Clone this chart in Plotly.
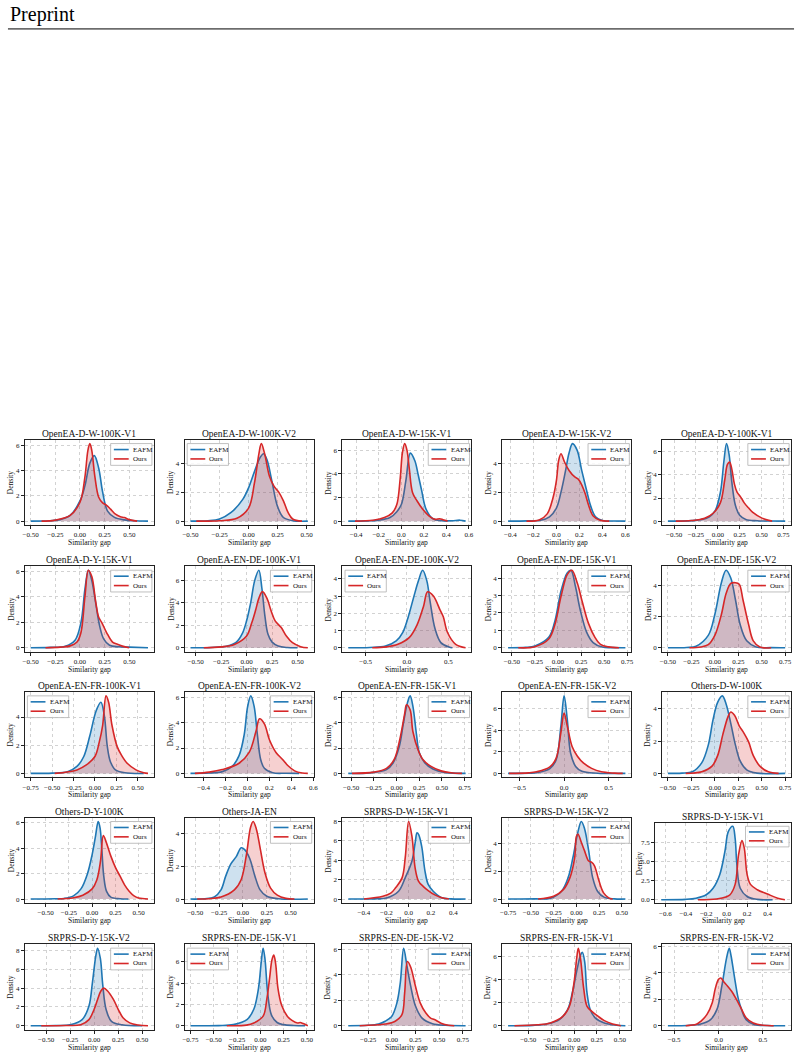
import plotly.graph_objects as go

W, H = 804, 1055
SERIES = ["EAFM", "Ours"]
LINE_COLORS = ["#1f77b4", "#d62728"]
FILL_COLORS = ["rgba(31,119,180,0.22)", "rgba(214,39,40,0.22)"]
FONT = "Liberation Serif"
M = "\u2212"

# ---------------- data ----------------
titles = ["OpenEA-D-W-100K-V1", "OpenEA-D-W-100K-V2", "OpenEA-D-W-15K-V1", "OpenEA-D-W-15K-V2",
          "OpenEA-D-Y-100K-V1", "OpenEA-D-Y-15K-V1", "OpenEA-EN-DE-100K-V1", "OpenEA-EN-DE-100K-V2",
          "OpenEA-EN-DE-15K-V1", "OpenEA-EN-DE-15K-V2", "OpenEA-EN-FR-100K-V1", "OpenEA-EN-FR-100K-V2",
          "OpenEA-EN-FR-15K-V1", "OpenEA-EN-FR-15K-V2", "Others-D-W-100K", "Others-D-Y-100K",
          "Others-JA-EN", "SRPRS-D-W-15K-V1", "SRPRS-D-W-15K-V2", "SRPRS-D-Y-15K-V1",
          "SRPRS-D-Y-15K-V2", "SRPRS-EN-DE-15K-V1", "SRPRS-EN-DE-15K-V2", "SRPRS-EN-FR-15K-V1",
          "SRPRS-EN-FR-15K-V2"]

xt_q = [M + "0.50", M + "0.25", "0.00", "0.25", "0.50"]
xt_q75 = [M + "0.50", M + "0.25", "0.00", "0.25", "0.50", "0.75"]
xt_q75n = [M + "0.75", M + "0.50", M + "0.25", "0.00", "0.25", "0.50"]
xt_f6 = [M + "0.4", M + "0.2", "0.0", "0.2", "0.4", "0.6"]
xt_f4 = [M + "0.4", M + "0.2", "0.0", "0.2", "0.4"]
xt_h = [M + "0.5", "0.0", "0.5"]
xt_srprs_y = [M + "0.6", M + "0.4", M + "0.2", "0.0", "0.2", "0.4"]
xt_en_de_v2 = [M + "0.25", "0.00", "0.25", "0.50", "0.75"]

yt_0246 = ["0", "2", "4", "6"]
yt_024 = ["0", "2", "4"]
yt_01234 = ["0", "1", "2", "3", "4"]
yt_02468 = ["0", "2", "4", "6", "8"]
yt_dec = ["0.0", "2.5", "5.0", "7.5"]

xticks = [xt_q, xt_q, xt_f6, xt_f6, xt_q75,
          xt_q, xt_q, xt_h, xt_q75, xt_q75,
          xt_q75n, xt_f6, xt_q75, xt_h, xt_q75,
          xt_q, xt_q75, xt_f4, xt_q75n, xt_srprs_y,
          xt_q, xt_q75n, xt_en_de_v2, xt_q, xt_h]
yticks = [yt_0246, yt_024, yt_0246, yt_024, yt_0246,
          yt_0246, yt_0246, yt_01234, yt_01234, yt_024,
          yt_024, yt_0246, yt_0246, yt_0246, yt_024,
          yt_0246, yt_024, yt_02468, yt_024, yt_dec,
          yt_02468, yt_0246, yt_0246, yt_0246, yt_0246]
legend_left = [2, 8, 11, 22]

e01_x = [-0.50, -0.30, -0.20, -0.10, 0.00, 0.05, 0.10, 0.145, 0.19, 0.23, 0.28, 0.35, 0.45, 0.55, 0.69]
e01_y = [0, 0.03, 0.12, 0.45, 1.6, 2.8, 4.6, 5.2, 4.2, 2.3, 0.8, 0.3, 0.1, 0.03, 0]
o01_x = [-0.39, -0.25, -0.10, 0.00, 0.05, 0.08, 0.10, 0.12, 0.15, 0.19, 0.23, 0.27, 0.31, 0.36, 0.41, 0.45, 0.50, 0.58]
o01_y = [0, 0.08, 0.45, 1.5, 3.5, 5.6, 6.15, 5.6, 3.6, 1.9, 1.45, 1.25, 0.95, 0.55, 0.35, 0.28, 0.12, 0]

e02_x = [-0.50, -0.35, -0.25, -0.15, -0.05, 0.00, 0.05, 0.10, 0.13, 0.16, 0.20, 0.25, 0.30, 0.38, 0.51]
e02_y = [0, 0.03, 0.15, 0.6, 1.5, 2.3, 3.4, 4.4, 4.65, 4.2, 2.8, 1.0, 0.25, 0.03, 0]
o02_x = [-0.45, -0.25, -0.10, 0.00, 0.05, 0.09, 0.11, 0.14, 0.18, 0.22, 0.26, 0.30, 0.34, 0.38, 0.46]
o02_y = [0, 0.03, 0.2, 0.9, 2.6, 4.7, 5.35, 4.6, 3.1, 2.4, 2.0, 1.4, 0.6, 0.15, 0]

e03_x = [-0.47, -0.30, -0.20, -0.10, -0.04, 0.00, 0.04, 0.08, 0.12, 0.15, 0.18, 0.22, 0.28, 0.36, 0.45, 0.52, 0.57]
e03_y = [0, 0.02, 0.08, 0.3, 0.8, 1.4, 3.4, 5.75, 5.1, 3.9, 2.6, 1.0, 0.2, 0.04, 0.03, 0.08, 0]
o03_x = [-0.41, -0.25, -0.15, -0.08, -0.04, -0.01, 0.01, 0.03, 0.05, 0.07, 0.10, 0.14, 0.19, 0.25, 0.30, 0.34, 0.37, 0.41]
o03_y = [0, 0.08, 0.3, 0.7, 1.4, 3.6, 5.8, 6.55, 6.0, 4.5, 2.4, 1.7, 1.0, 0.4, 0.15, 0.2, 0.12, 0]

e04_x = [-0.42, -0.25, -0.14, -0.06, 0.00, 0.04, 0.08, 0.11, 0.14, 0.18, 0.22, 0.26, 0.30, 0.34, 0.40, 0.50, 0.60]
e04_y = [0, 0.02, 0.06, 0.3, 0.9, 2.0, 3.5, 4.7, 5.35, 4.9, 3.5, 2.2, 1.0, 0.3, 0.05, 0.01, 0]
o04_x = [-0.26, -0.15, -0.08, -0.03, 0.00, 0.02, 0.04, 0.07, 0.11, 0.16, 0.19, 0.22, 0.25, 0.28, 0.32, 0.38, 0.46]
o04_y = [0, 0.08, 0.5, 1.6, 2.8, 4.2, 4.65, 4.1, 3.5, 3.05, 2.9, 2.5, 1.9, 1.1, 0.35, 0.06, 0]

e05_x = [-0.57, -0.35, -0.20, -0.10, -0.03, 0.03, 0.07, 0.10, 0.13, 0.16, 0.20, 0.25, 0.32, 0.45, 0.60, 0.77]
e05_y = [0, 0.02, 0.12, 0.35, 0.9, 2.5, 5.2, 6.7, 5.7, 3.4, 1.4, 0.5, 0.15, 0.03, 0.01, 0]
o05_x = [-0.48, -0.30, -0.15, -0.05, 0.03, 0.08, 0.11, 0.135, 0.16, 0.19, 0.22, 0.26, 0.30, 0.35, 0.40, 0.50, 0.62]
o05_y = [0, 0.05, 0.25, 0.7, 1.6, 3.6, 4.9, 5.1, 4.5, 3.2, 2.5, 2.1, 1.6, 1.15, 0.75, 0.28, 0]

e06_x = [-0.50, -0.30, -0.15, -0.05, 0.01, 0.05, 0.085, 0.12, 0.16, 0.20, 0.24, 0.30, 0.40, 0.50, 0.69]
e06_y = [0, 0.03, 0.12, 0.6, 2.0, 4.6, 6.1, 5.3, 3.5, 1.7, 0.7, 0.2, 0.08, 0.05, 0]
o06_x = [-0.35, -0.20, -0.10, -0.03, 0.01, 0.05, 0.085, 0.12, 0.16, 0.19, 0.22, 0.27, 0.33, 0.38, 0.43, 0.50]
o06_y = [0, 0.05, 0.15, 0.45, 1.2, 4.0, 6.1, 5.6, 3.6, 2.4, 2.0, 1.2, 0.45, 0.27, 0.13, 0]

e07_x = [-0.55, -0.35, -0.19, -0.10, -0.04, 0.00, 0.04, 0.08, 0.12, 0.15, 0.18, 0.21, 0.25, 0.31, 0.40, 0.50]
e07_y = [0, 0.03, 0.15, 0.5, 1.3, 2.4, 4.0, 6.0, 6.9, 5.3, 2.8, 1.2, 0.5, 0.15, 0.02, 0]
o07_x = [-0.42, -0.25, -0.12, 0.00, 0.05, 0.09, 0.12, 0.155, 0.20, 0.24, 0.28, 0.34, 0.39, 0.45, 0.53, 0.60]
o07_y = [0, 0.08, 0.3, 1.05, 2.2, 3.4, 4.4, 5.0, 4.4, 3.3, 2.4, 1.8, 1.05, 0.45, 0.1, 0]

e08_x = [-0.71, -0.45, -0.26, -0.13, -0.05, 0.01, 0.085, 0.14, 0.19, 0.24, 0.28, 0.34, 0.41, 0.51, 0.55]
e08_y = [0, 0.02, 0.1, 0.4, 0.9, 1.7, 3.0, 3.9, 4.5, 3.9, 2.7, 1.1, 0.3, 0.04, 0]
o08_x = [-0.42, -0.25, -0.11, 0.03, 0.12, 0.20, 0.25, 0.32, 0.40, 0.44, 0.49, 0.59, 0.71]
o08_y = [0, 0.05, 0.2, 0.6, 1.3, 2.4, 3.25, 3.0, 2.2, 1.8, 0.9, 0.2, 0]

e09_x = [-0.54, -0.35, -0.25, -0.10, -0.035, 0.035, 0.10, 0.14, 0.19, 0.24, 0.31, 0.38, 0.48, 0.60, 0.73]
e09_y = [0, 0.02, 0.1, 0.6, 1.5, 3.3, 4.3, 4.45, 3.5, 2.2, 0.9, 0.3, 0.04, 0.01, 0]
o09_x = [-0.43, -0.25, -0.10, -0.035, 0.035, 0.10, 0.15, 0.21, 0.26, 0.33, 0.40, 0.46, 0.55, 0.66]
o09_y = [0, 0.06, 0.5, 1.3, 3.0, 4.2, 4.45, 3.7, 2.7, 1.4, 0.6, 0.2, 0.05, 0]

e10_x = [-0.50, -0.30, -0.20, -0.07, 0.00, 0.07, 0.12, 0.17, 0.22, 0.27, 0.34, 0.44, 0.60, 0.75]
e10_y = [0, 0.02, 0.1, 0.8, 2.15, 4.2, 5.0, 4.5, 3.1, 1.5, 0.45, 0.05, 0.01, 0]
o10_x = [-0.27, -0.15, -0.07, 0.00, 0.07, 0.12, 0.17, 0.22, 0.26, 0.30, 0.36, 0.41, 0.48, 0.60]
o10_y = [0, 0.05, 0.2, 0.8, 2.15, 3.5, 4.15, 4.2, 4.1, 3.1, 1.5, 0.45, 0.05, 0]

e11_x = [-0.75, -0.50, -0.32, -0.21, -0.13, -0.06, 0.015, 0.07, 0.11, 0.145, 0.18, 0.24, 0.35, 0.57]
e11_y = [0, 0.02, 0.12, 0.5, 1.2, 2.65, 4.45, 5.05, 4.1, 1.9, 0.85, 0.25, 0.05, 0]
o11_x = [-0.47, -0.21, -0.10, 0.00, 0.05, 0.09, 0.13, 0.16, 0.20, 0.26, 0.31, 0.38, 0.48, 0.57, 0.62]
o11_y = [0, 0.25, 0.6, 1.2, 2.2, 3.4, 5.5, 5.05, 3.4, 1.9, 1.3, 0.7, 0.25, 0.05, 0]

e12_x = [-0.52, -0.35, -0.23, -0.14, -0.077, -0.03, 0.00, 0.03, 0.06, 0.09, 0.12, 0.154, 0.23, 0.35, 0.47]
e12_y = [0, 0.03, 0.14, 0.55, 1.4, 3.05, 5.2, 6.1, 5.3, 3.05, 1.1, 0.4, 0.05, 0.01, 0]
o12_x = [-0.48, -0.35, -0.23, -0.077, 0.015, 0.077, 0.11, 0.154, 0.20, 0.26, 0.32, 0.37, 0.43, 0.50, 0.55]
o12_y = [0, 0.1, 0.3, 0.8, 1.65, 3.3, 4.3, 3.9, 2.65, 1.65, 1.1, 0.6, 0.2, 0.03, 0]

e13_x = [-0.53, -0.30, -0.11, -0.04, 0.03, 0.075, 0.12, 0.15, 0.18, 0.22, 0.25, 0.31, 0.40, 0.53, 0.76]
e13_y = [0, 0.04, 0.3, 0.8, 2.1, 3.9, 5.55, 6.1, 5.3, 3.05, 1.65, 0.85, 0.35, 0.08, 0]
o13_x = [-0.49, -0.25, -0.11, -0.025, 0.04, 0.09, 0.11, 0.15, 0.18, 0.24, 0.29, 0.38, 0.49, 0.60, 0.72]
o13_y = [0, 0.1, 0.4, 1.1, 2.8, 4.7, 5.4, 5.0, 3.3, 1.8, 1.1, 0.55, 0.2, 0.05, 0]

e14_x = [-0.63, -0.40, -0.31, -0.16, -0.09, -0.036, 0.00, 0.036, 0.073, 0.13, 0.20, 0.38, 0.69]
e14_y = [0, 0.02, 0.06, 0.45, 1.25, 4.4, 7.2, 5.0, 1.9, 0.65, 0.2, 0.02, 0]
o14_x = [-0.62, -0.40, -0.31, -0.16, -0.09, -0.036, 0.00, 0.036, 0.09, 0.15, 0.22, 0.31, 0.42, 0.57, 0.66]
o14_y = [0, 0.05, 0.15, 0.6, 1.4, 3.8, 5.6, 4.4, 2.5, 1.6, 0.95, 0.47, 0.15, 0.03, 0]

e15_x = [-0.50, -0.35, -0.24, -0.14, -0.07, -0.02, 0.03, 0.08, 0.12, 0.17, 0.22, 0.27, 0.34, 0.45, 0.75]
e15_y = [0, 0.02, 0.1, 0.65, 1.75, 3.3, 4.4, 4.8, 4.3, 3.1, 1.75, 0.77, 0.22, 0.02, 0]
o15_x = [-0.31, -0.14, -0.03, 0.03, 0.085, 0.14, 0.17, 0.21, 0.26, 0.31, 0.36, 0.41, 0.48, 0.57, 0.68]
o15_y = [0, 0.1, 0.45, 1.1, 2.4, 3.5, 3.8, 3.6, 2.95, 2.5, 1.95, 1.1, 0.45, 0.1, 0]

e16_x = [-0.66, -0.40, -0.30, -0.20, -0.12, -0.05, 0.00, 0.035, 0.065, 0.085, 0.105, 0.125, 0.155, 0.20, 0.30, 0.39]
e16_y = [0, 0.02, 0.05, 0.25, 0.8, 2.0, 3.5, 4.9, 6.1, 5.6, 3.8, 1.8, 0.6, 0.15, 0.02, 0]
o16_x = [-0.37, -0.20, -0.10, 0.00, 0.05, 0.09, 0.12, 0.15, 0.20, 0.25, 0.30, 0.35, 0.40, 0.45, 0.50, 0.60]
o16_y = [0, 0.1, 0.3, 0.8, 1.5, 3.0, 5.0, 4.5, 3.4, 2.5, 1.8, 1.1, 0.6, 0.25, 0.08, 0]

e17_x = [-0.55, -0.40, -0.30, -0.23, -0.18, -0.125, -0.07, -0.018, 0.018, 0.07, 0.125, 0.18, 0.25, 0.375, 0.68]
e17_y = [0, 0.02, 0.13, 0.56, 1.42, 2.17, 2.6, 3.14, 3.03, 2.5, 1.42, 0.56, 0.17, 0.02, 0]
o17_x = [-0.48, -0.23, -0.09, -0.018, 0.036, 0.08, 0.107, 0.14, 0.18, 0.23, 0.29, 0.36, 0.45, 0.54]
o17_y = [0, 0.13, 0.56, 1.2, 2.7, 4.4, 4.75, 4.3, 3.14, 1.63, 0.67, 0.24, 0.04, 0]

e18_x = [-0.54, -0.30, -0.20, -0.09, -0.03, 0.03, 0.06, 0.075, 0.09, 0.117, 0.146, 0.175, 0.22, 0.29, 0.38, 0.51]
e18_y = [0, 0.02, 0.1, 0.8, 2.2, 3.9, 5.9, 6.8, 6.6, 5.4, 2.9, 1.5, 0.8, 0.17, 0.02, 0]
o18_x = [-0.40, -0.23, -0.16, -0.117, -0.058, -0.03, 0.00, 0.03, 0.058, 0.088, 0.13, 0.175, 0.23, 0.29, 0.36]
o18_y = [0, 0.28, 0.6, 1.15, 2.2, 4.3, 7.95, 6.4, 3.2, 1.85, 1.3, 0.87, 0.45, 0.17, 0]

e19_x = [-0.75, -0.45, -0.29, -0.165, -0.09, -0.037, 0.018, 0.055, 0.09, 0.136, 0.18, 0.235, 0.31, 0.42, 0.54]
e19_y = [0, 0.01, 0.05, 0.55, 1.55, 3.0, 4.85, 5.6, 5.1, 3.5, 1.55, 0.55, 0.12, 0.01, 0]
o19_x = [-0.42, -0.25, -0.14, -0.07, -0.018, 0.00, 0.018, 0.055, 0.09, 0.136, 0.17, 0.20, 0.25, 0.30, 0.36, 0.40]
o19_y = [0, 0.2, 0.7, 1.55, 3.0, 4.5, 4.7, 4.1, 3.5, 2.75, 2.65, 2.4, 1.3, 0.45, 0.07, 0]

e20_x = [-0.64, -0.40, -0.30, -0.20, -0.133, -0.067, -0.017, 0.017, 0.06, 0.083, 0.10, 0.133, 0.20, 0.30, 0.45]
e20_y = [0, 0.05, 0.2, 0.65, 1.5, 3.3, 6.3, 8.9, 9.56, 8.0, 4.6, 1.5, 0.43, 0.05, 0]
o20_x = [-0.28, -0.10, 0.00, 0.033, 0.083, 0.117, 0.15, 0.173, 0.20, 0.233, 0.30, 0.40, 0.50, 0.57]
o20_y = [0, 0.1, 0.4, 0.65, 2.0, 5.9, 7.7, 6.7, 3.3, 2.0, 1.3, 0.74, 0.2, 0]

e21_x = [-0.66, -0.40, -0.25, -0.125, -0.054, -0.018, 0.018, 0.036, 0.064, 0.09, 0.125, 0.18, 0.29, 0.50]
e21_y = [0, 0.02, 0.1, 0.65, 2.1, 4.6, 7.5, 8.26, 7.2, 4.3, 1.7, 0.47, 0.1, 0]
o21_x = [-0.55, -0.30, -0.14, -0.054, 0.00, 0.036, 0.07, 0.10, 0.14, 0.20, 0.25, 0.30, 0.37, 0.46, 0.56]
o21_y = [0, 0.02, 0.1, 0.65, 1.75, 2.8, 3.7, 4.0, 3.7, 2.8, 1.75, 0.85, 0.3, 0.07, 0]

e22_x = [-0.75, -0.45, -0.29, -0.14, -0.07, -0.02, 0.01, 0.03, 0.05, 0.08, 0.12, 0.18, 0.25, 0.36, 0.48]
e22_y = [0, 0.01, 0.1, 0.6, 1.55, 3.5, 6.0, 7.3, 6.3, 3.0, 1.0, 0.3, 0.1, 0.02, 0]
o22_x = [-0.36, -0.15, -0.07, 0.03, 0.07, 0.10, 0.125, 0.145, 0.165, 0.19, 0.23, 0.29, 0.34, 0.40, 0.43, 0.46, 0.51]
o22_y = [0, 0.05, 0.25, 0.9, 2.5, 4.5, 6.2, 6.65, 5.8, 3.5, 1.9, 0.9, 0.5, 0.25, 0.3, 0.2, 0]

e23_x = [-0.46, -0.25, -0.14, -0.07, 0.00, 0.054, 0.09, 0.125, 0.16, 0.20, 0.25, 0.32, 0.43, 0.57, 0.78]
e23_y = [0, 0.03, 0.13, 0.35, 0.75, 1.8, 3.4, 6.1, 4.7, 3.1, 1.55, 0.6, 0.16, 0.03, 0]
o23_x = [-0.34, -0.07, 0.036, 0.107, 0.136, 0.165, 0.20, 0.25, 0.30, 0.36, 0.41, 0.45, 0.52, 0.60, 0.66]
o23_y = [0, 0.13, 0.35, 0.87, 2.6, 5.05, 4.6, 3.1, 1.8, 1.0, 0.6, 0.48, 0.2, 0.03, 0]

e24_x = [-0.72, -0.45, -0.30, -0.16, -0.07, -0.018, 0.035, 0.07, 0.09, 0.116, 0.14, 0.176, 0.23, 0.33, 0.44, 0.56]
e24_y = [0, 0.03, 0.15, 0.53, 1.4, 2.9, 4.95, 6.1, 6.35, 5.5, 2.9, 1.4, 0.68, 0.24, 0.06, 0]
o24_x = [-0.65, -0.40, -0.26, -0.12, -0.05, 0.00, 0.028, 0.046, 0.07, 0.105, 0.14, 0.19, 0.26, 0.33, 0.42, 0.51]
o24_y = [0, 0.08, 0.24, 0.82, 1.7, 3.76, 5.8, 6.7, 5.8, 3.2, 1.7, 1.26, 0.82, 0.44, 0.15, 0]

e25_x = [-0.57, -0.35, -0.20, -0.09, -0.018, 0.037, 0.09, 0.12, 0.14, 0.176, 0.22, 0.26, 0.31, 0.40, 0.55, 0.75]
e25_y = [0, 0.02, 0.13, 0.46, 1.23, 3.0, 5.1, 5.85, 5.3, 3.8, 2.1, 1.2, 0.46, 0.1, 0.01, 0]
o25_x = [-0.37, -0.25, -0.20, -0.13, -0.07, -0.037, 0.00, 0.026, 0.06, 0.10, 0.147, 0.20, 0.26, 0.31, 0.39, 0.50, 0.62]
o25_y = [0, 0.1, 0.33, 0.85, 1.75, 2.8, 3.5, 3.6, 3.3, 3.0, 2.6, 2.0, 1.23, 0.6, 0.2, 0.03, 0]

eafm = [(e01_x, e01_y), (e02_x, e02_y), (e03_x, e03_y), (e04_x, e04_y), (e05_x, e05_y),
        (e06_x, e06_y), (e07_x, e07_y), (e08_x, e08_y), (e09_x, e09_y), (e10_x, e10_y),
        (e11_x, e11_y), (e12_x, e12_y), (e13_x, e13_y), (e14_x, e14_y), (e15_x, e15_y),
        (e16_x, e16_y), (e17_x, e17_y), (e18_x, e18_y), (e19_x, e19_y), (e20_x, e20_y),
        (e21_x, e21_y), (e22_x, e22_y), (e23_x, e23_y), (e24_x, e24_y), (e25_x, e25_y)]
ours = [(o01_x, o01_y), (o02_x, o02_y), (o03_x, o03_y), (o04_x, o04_y), (o05_x, o05_y),
        (o06_x, o06_y), (o07_x, o07_y), (o08_x, o08_y), (o09_x, o09_y), (o10_x, o10_y),
        (o11_x, o11_y), (o12_x, o12_y), (o13_x, o13_y), (o14_x, o14_y), (o15_x, o15_y),
        (o16_x, o16_y), (o17_x, o17_y), (o18_x, o18_y), (o19_x, o19_y), (o20_x, o20_y),
        (o21_x, o21_y), (o22_x, o22_y), (o23_x, o23_y), (o24_x, o24_y), (o25_x, o25_y)]

# ---------------- layout geometry (pixels) ----------------
COL_LEFT = [23, 184, 343, 504, 665]
ROW_TOP = [439, 566, 692, 818, 945]
BOX_W, BOX_H = 130, 85.5
SPECIAL_BOX = {20: (658, 823, 137, 81)}


def num(s):
    return float(s.replace(M, "-"))


fig = go.Figure()
annotations = []
shapes = []
layout_axes = {}

for i in range(25):
    n = i + 1
    r, c = divmod(i, 5)
    left, top, w, h = SPECIAL_BOX.get(n, (COL_LEFT[c], ROW_TOP[r], BOX_W, BOX_H))
    xa = "x" if n == 1 else f"x{n}"
    ya = "y" if n == 1 else f"y{n}"
    xkey = "xaxis" if n == 1 else f"xaxis{n}"
    ykey = "yaxis" if n == 1 else f"yaxis{n}"

    curves = [eafm[i], ours[i]]
    for k, (cx, cy) in enumerate(curves):
        fig.add_trace(go.Scatter(
            x=cx, y=cy, mode="lines", name=SERIES[k], showlegend=False,
            line=dict(color=LINE_COLORS[k], width=1.6, shape="spline", smoothing=1.0),
            fill="tozeroy", fillcolor=FILL_COLORS[k], xaxis=xa, yaxis=ya,
            hoverinfo="skip"))

    allx = curves[0][0] + curves[1][0]
    ally = curves[0][1] + curves[1][1]
    xmin, xmax = min(allx), max(allx)
    span = xmax - xmin
    ymax = max(ally)

    common = dict(showline=True, mirror=True, linecolor="#222222", linewidth=1,
                  ticks="outside", ticklen=3, tickwidth=0.8, tickcolor="#222222",
                  tickfont=dict(family=FONT, size=7, color="#111111"),
                  showgrid=True, gridcolor="#d2d2d2", gridwidth=0.8, griddash="dot",
                  zeroline=False, fixedrange=True)
    layout_axes[xkey] = dict(common, domain=[left / W, (left + w) / W], anchor=ya,
                             range=[xmin - 0.05 * span, xmax + 0.05 * span],
                             tickvals=[num(s) for s in xticks[i]], ticktext=xticks[i])
    layout_axes[ykey] = dict(common, domain=[1 - (top + h) / H, 1 - top / H], anchor=xa,
                             range=[-0.05 * ymax, 1.05 * ymax],
                             tickvals=[num(s) for s in yticks[i]], ticktext=yticks[i])

    xd, yd = f"{xa} domain", f"{ya} domain"
    # subplot title
    annotations.append(dict(text=titles[i], xref=xd, yref=yd, x=0.5, y=1, xanchor="center",
                            yanchor="middle", yshift=6, showarrow=False, borderpad=0,
                            font=dict(family=FONT, size=9.5, color="#111111")))
    # axis titles
    annotations.append(dict(text="Similarity gap", xref=xd, yref=yd, x=0.5, y=0,
                            xanchor="center", yanchor="middle", yshift=-17.5, showarrow=False,
                            borderpad=0, font=dict(family=FONT, size=7.5, color="#111111")))
    annotations.append(dict(text="Density", xref=xd, yref=yd, x=0, y=0.5, xanchor="center",
                            yanchor="middle", xshift=-14 if n != 20 else -16, textangle=-90,
                            showarrow=False, borderpad=0,
                            font=dict(family=FONT, size=7.5, color="#111111")))

    # legend (drawn manually)
    if n in legend_left:
        bx0, bx1, lx0, lx1, tx = 0.02, 0.34, 0.045, 0.16, 0.185
    else:
        bx0, bx1, lx0, lx1, tx = 0.665, 0.985, 0.69, 0.805, 0.83
    by0, by1 = 0.70, 0.955
    shapes.append(dict(type="rect", xref=xd, yref=yd, x0=bx0, x1=bx1, y0=by0, y1=by1,
                       line=dict(color="#b0b0b0", width=0.8), fillcolor="rgba(255,255,255,0.85)",
                       layer="above"))
    for k, ly in enumerate([0.885, 0.775]):
        shapes.append(dict(type="line", xref=xd, yref=yd, x0=lx0, x1=lx1, y0=ly, y1=ly,
                           line=dict(color=LINE_COLORS[k], width=1.6), layer="above"))
        annotations.append(dict(text=SERIES[k], xref=xd, yref=yd, x=tx, y=ly, xanchor="left",
                                yanchor="middle", showarrow=False, borderpad=0,
                                font=dict(family=FONT, size=7, color="#111111")))

# page header
annotations.append(dict(text="Preprint", xref="paper", yref="paper", x=6 / W, y=1 - 13 / H,
                        xanchor="left", yanchor="middle", showarrow=False,
                        font=dict(family=FONT, size=20, color="#000000")))
shapes.append(dict(type="line", xref="paper", yref="paper", x0=6 / W, x1=798 / W,
                   y0=1 - 27 / H, y1=1 - 27 / H, line=dict(color="#000000", width=1)))

fig.update_layout(width=W, height=H, margin=dict(l=0, r=0, t=0, b=0),
                  paper_bgcolor="white", plot_bgcolor="white", showlegend=False,
                  annotations=annotations, shapes=shapes, **layout_axes)

fig.write_html("out.html")
